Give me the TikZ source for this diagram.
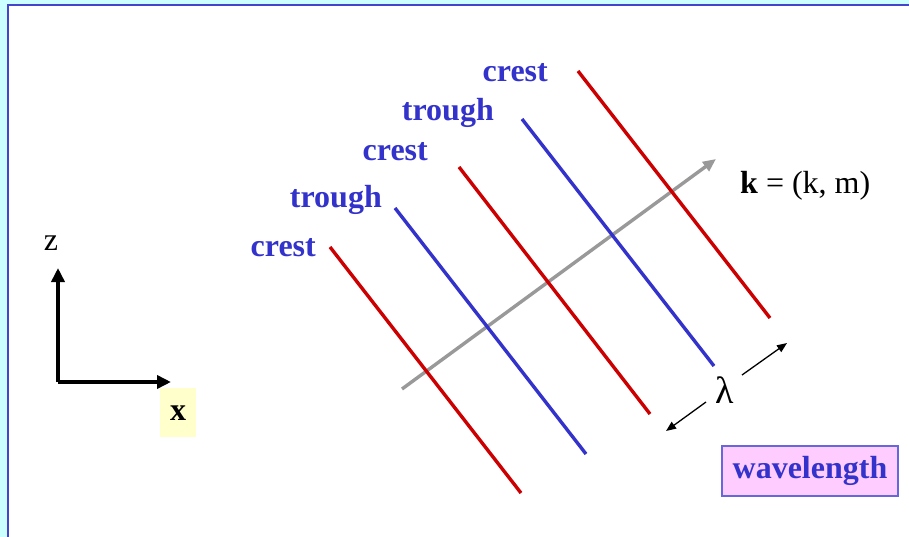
\documentclass[tikz,border=0pt]{standalone}
\usepackage{fontspec}
\setmainfont{Liberation Serif}
\usetikzlibrary{arrows.meta}
\definecolor{bgcyan}{HTML}{CCFFFF}
\definecolor{framblue}{HTML}{4444CC}
\definecolor{wred}{HTML}{CC0000}
\definecolor{wblue}{HTML}{3333CC}
\definecolor{wgray}{HTML}{999999}
\definecolor{lyellow}{HTML}{FFFFCC}
\definecolor{lpink}{HTML}{FFCCFF}
\definecolor{boxedge}{HTML}{6666DD}
\tikzset{
  big/.style={font=\fontsize{32}{37}\selectfont, inner sep=0pt},
  lbl/.style={big, font=\fontsize{32}{37}\selectfont\bfseries, text=wblue, anchor=base east},
  crestline/.style={wred, line width=3.4pt},
  troughline/.style={wblue, line width=3.4pt},
  axis/.style={black, line width=4pt, -{Triangle[length=14pt,width=13pt]}},
  lamarrow/.style={black, line width=1.3pt, -{Triangle[length=10pt,width=8pt]}},
}
\begin{document}
\begin{tikzpicture}[x=1pt,y=-1pt]
\useasboundingbox (0,0) rectangle (909,537);
\fill[bgcyan] (0,0) rectangle (909,537);
\fill[white] (8,5) rectangle (909,537);
\draw[framblue, line width=2.2pt] (8,537) -- (8,5) -- (909,5);

% wave fronts
\coordinate (c1a) at (330,247); \coordinate (c1b) at (521,493);
\coordinate (t1a) at (395,208); \coordinate (t1b) at (586,454);
\coordinate (c2a) at (459,167); \coordinate (c2b) at (650,414);
\coordinate (t2a) at (522,119); \coordinate (t2b) at (714,366);
\coordinate (c3a) at (578,71);  \coordinate (c3b) at (770,318);

% wave vector
\coordinate (ka) at (402,389); \coordinate (kb) at (716,159);
\draw[wgray, line width=3.4pt, -{Triangle[length=13pt,width=11pt]}] (ka) -- (kb);

\draw[crestline] (c1a) -- (c1b);
\draw[troughline] (t1a) -- (t1b);
\draw[crestline] (c2a) -- (c2b);
\draw[troughline] (t2a) -- (t2b);
\draw[crestline] (c3a) -- (c3b);

\node[lbl] (l1) at (316,256) {crest};
\node[lbl] (l2) at (382,208) {trough};
\node[lbl] (l3) at (428,161) {crest};
\node[lbl] (l4) at (494,121) {trough};
\node[lbl] (l5) at (548,82) {crest};

\node[big, anchor=base west] (klbl) at (740,194) {\textbf{k} = (k, m)};

% axes
\coordinate (o) at (58,382);
\coordinate (zt) at (58,268);
\coordinate (xt) at (171,382);
\draw[axis] (o) -- (zt);
\draw[axis] (o) -- (xt);
\node[big, anchor=base] (zlbl) at (51,251) {z};
\node[big, font=\fontsize{32}{37}\selectfont\bfseries, fill=lyellow, minimum width=36pt, minimum height=49pt, anchor=north west, text depth=0pt] (xlbl) at (160,388) {x};

% wavelength
\node[big, font=\fontsize{38}{42}\selectfont, anchor=base] (lam) at (725,403) {λ};
\coordinate (la1) at (742,375); \coordinate (la2) at (787,343);
\coordinate (lb1) at (706,402); \coordinate (lb2) at (666,431);
\draw[lamarrow] (la1) -- (la2);
\draw[lamarrow] (lb1) -- (lb2);

\node[big, font=\fontsize{32}{37}\selectfont\bfseries, text=wblue, fill=lpink, draw=boxedge, line width=1.5pt, minimum width=176pt, minimum height=50pt] (wl) at (810,471) {wavelength};
\end{tikzpicture}
\end{document}
